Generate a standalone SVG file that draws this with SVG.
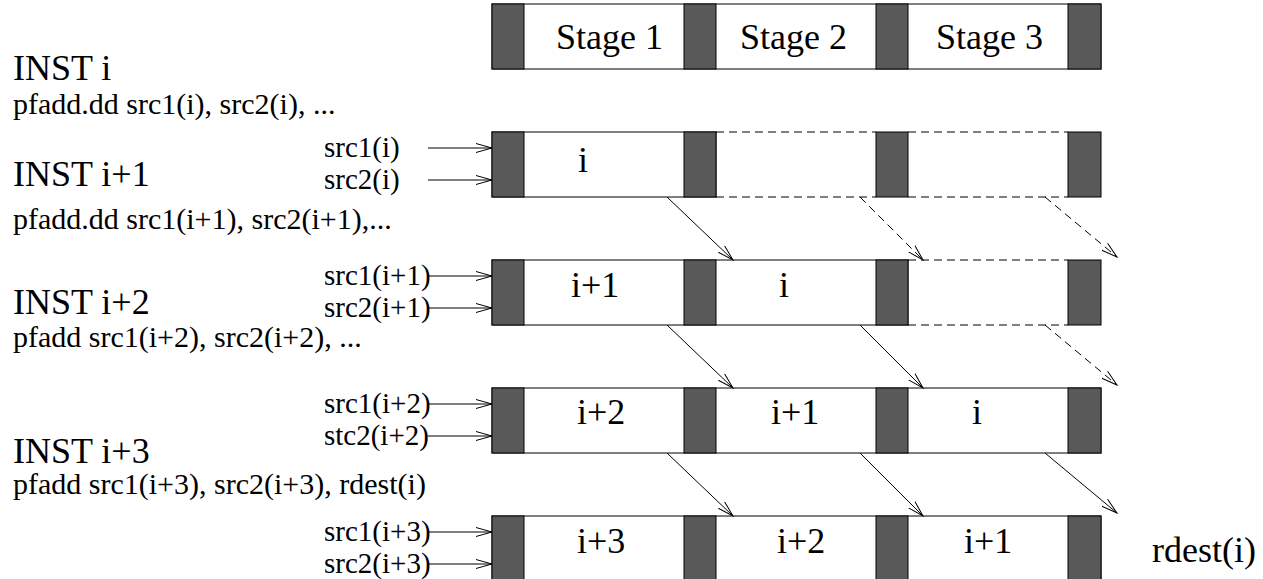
<svg xmlns="http://www.w3.org/2000/svg" width="1263" height="579" viewBox="0 0 1263 579">
<defs>
<style>
.box{fill:#fff;stroke:#000;stroke-width:1}
.reg{fill:#595959;stroke:#000;stroke-width:1}
.dash{fill:none;stroke:#000;stroke-width:1;stroke-dasharray:8 5}
.ln{fill:none;stroke:#000;stroke-width:1}
text{font-family:'Liberation Serif','Times New Roman','DejaVu Serif',serif;fill:#000}
.big{font-size:36px}
.sm{font-size:30px}
.in{font-size:29px}
</style>
<marker id="ah" markerWidth="18" markerHeight="12" refX="16" refY="6" orient="auto" markerUnits="userSpaceOnUse">
<path d="M0,1.5 L16,6 L0,10.5" fill="none" stroke="#000" stroke-width="1"/>
</marker>
</defs>
<rect width="1263" height="579" fill="#fff"/>

<g id="labels" font-family="Liberation Serif, serif">
<text class="big" x="13" y="80">INST i</text>
<text class="sm" x="13" y="114">pfadd.dd src1(i), src2(i), ...</text>
<text class="big" x="13" y="186">INST i+1</text>
<text class="sm" x="13" y="229">pfadd.dd src1(i+1), src2(i+1),...</text>
<text class="big" x="13" y="314">INST i+2</text>
<text class="sm" x="13" y="347">pfadd src1(i+2), src2(i+2), ...</text>
<text class="big" x="13" y="463">INST i+3</text>
<text class="sm" x="13" y="494">pfadd src1(i+3), src2(i+3), rdest(i)</text>
<text class="big" x="1152" y="562">rdest(i)</text>
</g>

<g id="header">
<rect class="box" x="492" y="4" width="609" height="65"/>
<rect class="reg" x="492" y="4" width="32" height="65"/>
<rect class="reg" x="684" y="4" width="32" height="65"/>
<rect class="reg" x="876" y="4" width="32" height="65"/>
<rect class="reg" x="1068" y="4" width="33" height="65"/>
<text class="big" x="556" y="49">Stage 1</text>
<text class="big" x="740" y="49">Stage 2</text>
<text class="big" x="936" y="49">Stage 3</text>
</g>

<g id="row1">
<rect class="box" x="492" y="132" width="224" height="65"/>
<path class="dash" d="M716,132H876M908,132H1068M716,197H876M908,197H1068"/>
<rect class="reg" x="492" y="132" width="32" height="65"/>
<rect class="reg" x="684" y="132" width="32" height="65"/>
<rect class="reg" x="876" y="132" width="32" height="65"/>
<rect class="reg" x="1068" y="132" width="33" height="65"/>
<text class="big" x="578" y="172">i</text>
</g>

<g id="row2">
<rect class="box" x="492" y="260" width="416" height="65"/>
<path class="dash" d="M908,260H1068M908,325H1068"/>
<rect class="reg" x="492" y="260" width="32" height="65"/>
<rect class="reg" x="684" y="260" width="32" height="65"/>
<rect class="reg" x="876" y="260" width="32" height="65"/>
<rect class="reg" x="1068" y="260" width="33" height="65"/>
<text class="big" x="571" y="297">i+1</text>
<text class="big" x="779" y="297">i</text>
</g>

<g id="row3">
<rect class="box" x="492" y="388" width="609" height="65"/>
<rect class="reg" x="492" y="388" width="32" height="65"/>
<rect class="reg" x="684" y="388" width="32" height="65"/>
<rect class="reg" x="876" y="388" width="32" height="65"/>
<rect class="reg" x="1068" y="388" width="33" height="65"/>
<text class="big" x="577" y="424">i+2</text>
<text class="big" x="771" y="424">i+1</text>
<text class="big" x="972" y="424">i</text>
</g>

<g id="row4">
<rect class="box" x="492" y="516" width="609" height="66"/>
<rect class="reg" x="492" y="516" width="32" height="66"/>
<rect class="reg" x="684" y="516" width="32" height="66"/>
<rect class="reg" x="876" y="516" width="32" height="66"/>
<rect class="reg" x="1068" y="516" width="33" height="66"/>
<text class="big" x="577" y="553">i+3</text>
<text class="big" x="777" y="553">i+2</text>
<text class="big" x="964" y="553">i+1</text>
</g>

<g id="inputs">
<text class="in" x="324" y="157">src1(i)</text>
<text class="in" x="324" y="189">src2(i)</text>
<text class="in" x="324" y="285">src1(i+1)</text>
<text class="in" x="324" y="317">src2(i+1)</text>
<text class="in" x="324" y="413">src1(i+2)</text>
<text class="in" x="324" y="445">stc2(i+2)</text>
<text class="in" x="324" y="541">src1(i+3)</text>
<text class="in" x="324" y="573">src2(i+3)</text>
</g>

<g id="connectors">
<path class="ln" marker-end="url(#ah)" d="M428,148H492"/>
<path class="ln" marker-end="url(#ah)" d="M428,180H492"/>
<path class="ln" marker-end="url(#ah)" d="M428,276H492"/>
<path class="ln" marker-end="url(#ah)" d="M428,308H492"/>
<path class="ln" marker-end="url(#ah)" d="M428,404H492"/>
<path class="ln" marker-end="url(#ah)" d="M428,436H492"/>
<path class="ln" marker-end="url(#ah)" d="M428,532H492"/>
<path class="ln" marker-end="url(#ah)" d="M428,564H492"/>

<path class="ln" marker-end="url(#ah)" d="M667,197L733,260"/>
<path class="dash" marker-end="url(#ah)" d="M860,197L923,260"/>
<path class="dash" marker-end="url(#ah)" d="M1045,197L1117,257"/>

<path class="ln" marker-end="url(#ah)" d="M667,325L733,388"/>
<path class="ln" marker-end="url(#ah)" d="M860,325L923,388"/>
<path class="dash" marker-end="url(#ah)" d="M1045,325L1117,385"/>

<path class="ln" marker-end="url(#ah)" d="M667,453L733,516"/>
<path class="ln" marker-end="url(#ah)" d="M860,453L923,516"/>
<path class="ln" marker-end="url(#ah)" d="M1045,453L1117,513"/>
</g>
</svg>
